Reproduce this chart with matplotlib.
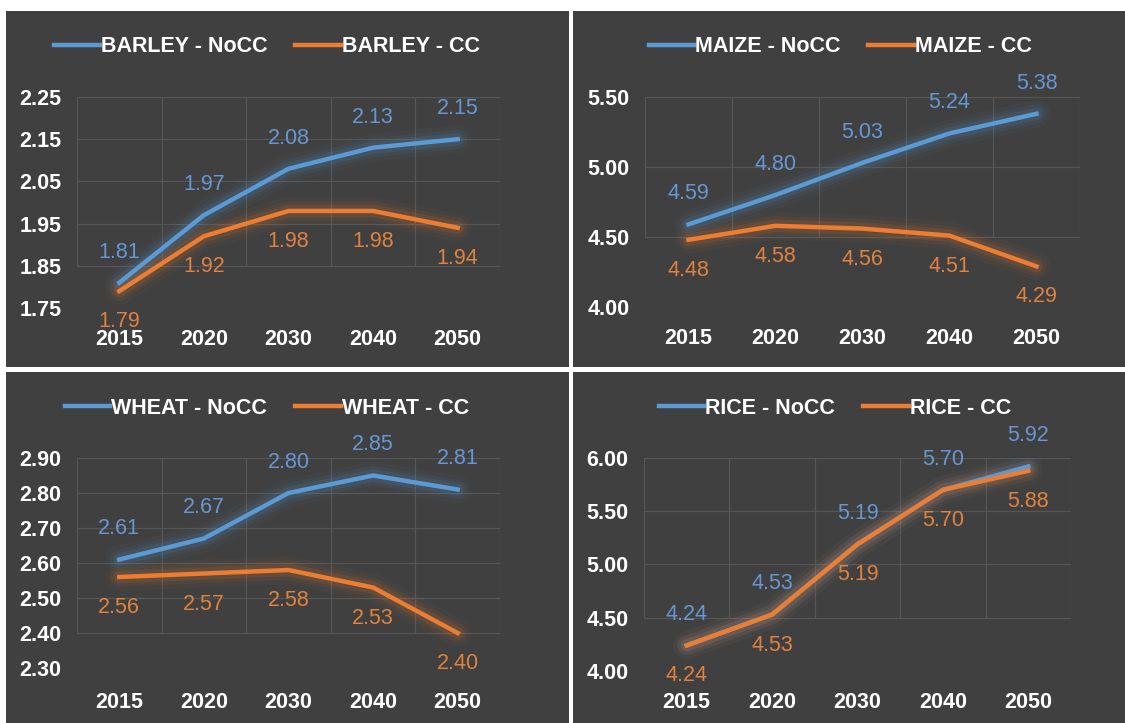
import matplotlib
matplotlib.use('Agg')
import matplotlib.pyplot as plt
from matplotlib.patches import Rectangle
import numpy as np

anos = ['2015', '2020', '2030', '2040', '2050']

cevada_nocc = [1.81, 1.97, 2.08, 2.13, 2.15]
cevada_cc = [1.79, 1.92, 1.98, 1.98, 1.94]
milho_nocc = [4.59, 4.80, 5.03, 5.24, 5.38]
milho_cc = [4.48, 4.58, 4.56, 4.51, 4.29]
trigo_nocc = [2.61, 2.67, 2.80, 2.85, 2.81]
trigo_cc = [2.56, 2.57, 2.58, 2.53, 2.40]
arroz_nocc = [4.24, 4.53, 5.19, 5.70, 5.92]
arroz_cc = [4.24, 4.53, 5.19, 5.70, 5.88]

ticks_cevada = [1.75, 1.85, 1.95, 2.05, 2.15, 2.25]
ticks_milho = [4.00, 4.50, 5.00, 5.50]
ticks_trigo = [2.30, 2.40, 2.50, 2.60, 2.70, 2.80, 2.90]
ticks_arroz = [4.00, 4.50, 5.00, 5.50, 6.00]

AZUL = '#5b9bd5'
LARANJA = '#ed7d31'
AZUL_TXT = '#6697d3'
LARANJA_TXT = '#e0823f'
FUNDO = '#404040'
GRADE = '#565656'

plt.rcParams['font.family'] = ['Liberation Sans', 'DejaVu Sans']

W, H = 1125, 723
fig = plt.figure(figsize=(W / 100, H / 100), dpi=100)
fig.patch.set_facecolor('white')


def px(x0, y0, x1, y1):
    # pixel box (top-left origin) -> figure fraction rect
    return [x0 / W, 1 - y1 / H, (x1 - x0) / W, (y1 - y0) / H]


# fundos dos quatro paineis
for caixa in [(6, 11, 569, 367), (573, 11, W, 367), (6, 372, 569, H), (573, 372, W, H)]:
    r = px(*caixa)
    fig.patches.append(Rectangle((r[0], r[1]), r[2], r[3], transform=fig.transFigure,
                                 facecolor=FUNDO, edgecolor='none', zorder=-1))


def painel(caixa, nome, nocc, cc, yticks, leg_centro, xpad=15):
    ax = fig.add_axes(px(*caixa))
    ax.set_facecolor('none')
    x = np.arange(len(anos))

    # grade (a parte de baixo some na figura original)
    ax.hlines(yticks[1:], -0.5, len(anos) - 0.5, color=GRADE, lw=0.9, zorder=1)
    ax.vlines(np.arange(len(anos) + 1) - 0.5, yticks[1], yticks[-1], color=GRADE, lw=0.9, zorder=1)

    handles = []
    series = [(nocc, AZUL, AZUL_TXT, nome + ' - NoCC', 1),
              (cc, LARANJA, LARANJA_TXT, nome + ' - CC', -1)]
    for serie, cor, cor_txt, rot, sinal in series:
        for lw, a in [(20, 0.04), (14, 0.07), (9, 0.12)]:
            ax.plot(x, serie, color=cor, lw=lw, alpha=a, solid_capstyle='round', zorder=2)
        h, = ax.plot(x, serie, color=cor, lw=3.2, label=rot, zorder=2.1)
        handles.append(h)
        for xi, v in zip(x, serie):
            ax.annotate('%.2f' % v, (xi, v), xytext=(0, 22 * sinal), textcoords='offset points',
                        ha='center', va='center', color=cor_txt, fontsize=15.5, zorder=2.2)

    ax.set_xlim(-0.5, len(anos) - 0.5)
    ax.set_ylim(yticks[0], yticks[-1])
    ax.set_xticks(x)
    ax.set_xticklabels(anos)
    ax.set_yticks(yticks)
    ax.set_yticklabels(['%.2f' % t for t in yticks])
    for s in ax.spines.values():
        s.set_visible(False)
    ax.tick_params(length=0, labelcolor='white', labelsize=15.5)
    ax.tick_params(axis='x', pad=xpad)
    ax.tick_params(axis='y', pad=11)
    for t in ax.get_xticklabels() + ax.get_yticklabels():
        t.set_fontweight('bold')
    ax.xaxis.set_zorder(5)

    leg = ax.legend(handles=handles, loc='center', ncol=2, frameon=False,
                    bbox_to_anchor=(leg_centro[0] / W, 1 - leg_centro[1] / H),
                    bbox_transform=fig.transFigure, handlelength=2.1,
                    handletextpad=0.05, columnspacing=1.3,
                    prop={'size': 15.5, 'weight': 'bold'})
    for t in leg.get_texts():
        t.set_color('white')
    return ax


painel((77, 97, 500, 308), 'BARLEY', cevada_nocc, cevada_cc, ticks_cevada, (267, 47))
painel((645, 97, 1080, 307), 'MAIZE', milho_nocc, milho_cc, ticks_milho, (840, 47))
painel((77, 458, 500, 668), 'WHEAT', trigo_nocc, trigo_cc, ticks_trigo, (267, 408), xpad=17)
painel((644, 458, 1071, 671), 'RICE', arroz_nocc, arroz_cc, ticks_arroz, (835, 408))

plt.savefig('out.png', dpi=100, facecolor='white')
